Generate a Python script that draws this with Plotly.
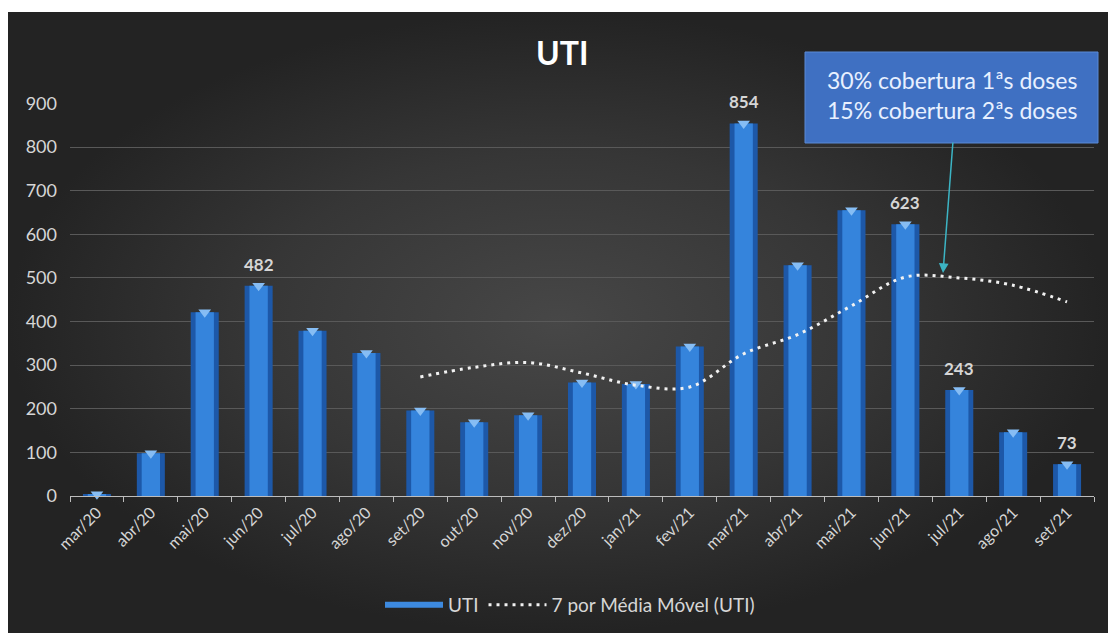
import plotly.graph_objects as go

categories = ["mar/20", "abr/20", "mai/20", "jun/20", "jul/20", "ago/20", "set/20",
              "out/20", "nov/20", "dez/20", "jan/21", "fev/21", "mar/21", "abr/21",
              "mai/21", "jun/21", "jul/21", "ago/21", "set/21"]
uti = [4, 98, 421, 482, 379, 328, 196, 169, 185, 260, 257, 343, 854, 529, 655, 623, 243, 146, 73]
media_movel = [None, None, None, None, None, None, 273, 295, 306, 282, 254, 250,
               326, 370, 436, 502, 500, 483, 445]
labelled = ["jun/20", "mar/21", "jun/21", "jul/21", "set/21"]
y_ticks = [0, 100, 200, 300, 400, 500, 600, 700, 800, 900]
title_text = "UTI"
box_lines = ["30% cobertura 1ªs doses", "15% cobertura 2ªs doses"]

W, H = 1108, 633
FONT = "Lato"
TXT = "#d6d6d6"

fig = go.Figure()

# background gradient panel (on helper axes x/y covering the full page)
fig.add_trace(go.Scatter(
    x=[8, W, W, 8, 8], y=[12, 12, H, H, 12], xaxis="x", yaxis="y",
    mode="lines", line=dict(width=0), fill="toself",
    fillgradient=dict(type="radial",
                      colorscale=[[0, "#474747"], [0.55, "#363636"], [1, "#232323"]]),
    hoverinfo="skip", showlegend=False))

# bars: dark outer body + lighter inner body for a cylinder look
fig.add_trace(go.Bar(
    x=categories, y=uti, xaxis="x2", yaxis="y2", width=0.52,
    marker=dict(color="#1d58a8", line=dict(width=0)),
    showlegend=False, hoverinfo="skip"))
fig.add_trace(go.Bar(
    x=categories, y=uti, xaxis="x2", yaxis="y2", width=0.34,
    marker=dict(color="#3584dc", line=dict(width=0)),
    name="UTI", showlegend=False))
# caps
fig.add_trace(go.Scatter(
    x=categories, y=uti, xaxis="x2", yaxis="y2", mode="markers",
    marker=dict(symbol="triangle-down", size=11, color="#86bdf4", line=dict(width=0)),
    showlegend=False, hoverinfo="skip", cliponaxis=False))

# legend entry for bars (line style like the original)
fig.add_trace(go.Scatter(
    x=[None], y=[None], xaxis="x2", yaxis="y2", mode="lines",
    line=dict(color="#3d8ae0", width=6), name="UTI"))

# moving average
fig.add_trace(go.Scatter(
    x=categories, y=media_movel, xaxis="x2", yaxis="y2", mode="lines",
    line=dict(color="#f2f2f2", width=3, dash="3px,5px", shape="spline", smoothing=1.0),
    name="7 por Média Móvel (UTI)", connectgaps=False))

annotations = []
for c, v in zip(categories, uti):
    if c in labelled:
        annotations.append(dict(
            x=c, y=v, xref="x2", yref="y2", text=str(v), showarrow=False,
            yanchor="bottom", yshift=9,
            font=dict(family=FONT, size=17, color=TXT, weight="bold")))

annotations.append(dict(
    x=562 / W, y=1 - 53 / H, xref="paper", yref="paper", text=f"<b>{title_text}</b>",
    showarrow=False, xanchor="center", yanchor="middle",
    font=dict(family=FONT, size=32, color="#ffffff")))

# callout box text
annotations.append(dict(
    x=(805 + 1098) / 2 / W, y=1 - 95 / H, xref="paper", yref="paper",
    text="<br>".join(box_lines), showarrow=False, xanchor="center", yanchor="middle",
    align="center", font=dict(family=FONT, size=23, color="#e8f0ff")))

# arrow
annotations.append(dict(
    x=943 / W, y=1 - 273 / H, xref="paper", yref="paper", text="",
    showarrow=True, ax=10, ay=-132, arrowhead=2, arrowsize=1.3, arrowwidth=1.5,
    arrowcolor="#3cb4c4", standoff=0))

shapes = [dict(type="rect", xref="paper", yref="paper",
               x0=805 / W, x1=1098 / W, y0=1 - 143 / H, y1=1 - 52 / H,
               fillcolor="#3f70c2", line=dict(color="#5a8ad6", width=1), layer="above")]

fig.update_layout(
    width=W, height=H,
    margin=dict(l=0, r=0, t=0, b=0, pad=0, autoexpand=False),
    paper_bgcolor="#ffffff", plot_bgcolor="rgba(0,0,0,0)",
    barmode="overlay",
    font=dict(family=FONT, color=TXT),
    xaxis=dict(domain=[0, 1], range=[0, W], visible=False, fixedrange=True, automargin=False),
    yaxis=dict(domain=[0, 1], range=[H, 0], visible=False, fixedrange=True, automargin=False),
    xaxis2=dict(domain=[70 / W, 1094 / W], anchor="y2", type="category",
                categoryorder="array", categoryarray=categories, automargin=False,
                range=[-0.5, len(categories) - 0.5],
                tickangle=-45, tickfont=dict(family=FONT, size=16, color=TXT),
                showline=True, linecolor="#bdbdbd", linewidth=1,
                ticks="outside", tickson="boundaries", ticklen=5, tickcolor="#bdbdbd",
                showgrid=False),
    yaxis2=dict(domain=[1 - 496 / H, 1 - 103 / H], anchor="x2", range=[0, 901],
                automargin=False,
                tickvals=y_ticks, tickfont=dict(family=FONT, size=18, color=TXT),
                showgrid=True, gridcolor="#595959", gridwidth=1, zeroline=False,
                showline=False, ticklabelstandoff=12),
    legend=dict(orientation="h", x=570 / W, y=1 - 605 / H, xanchor="center",
                yanchor="middle", font=dict(family=FONT, size=19, color=TXT),
                bgcolor="rgba(0,0,0,0)", itemwidth=58, traceorder="normal"),
    annotations=annotations, shapes=shapes,
    showlegend=True,
)

fig.write_html("out.html", config={"displayModeBar": False},
               post_script="document.body.style.margin='0';")
